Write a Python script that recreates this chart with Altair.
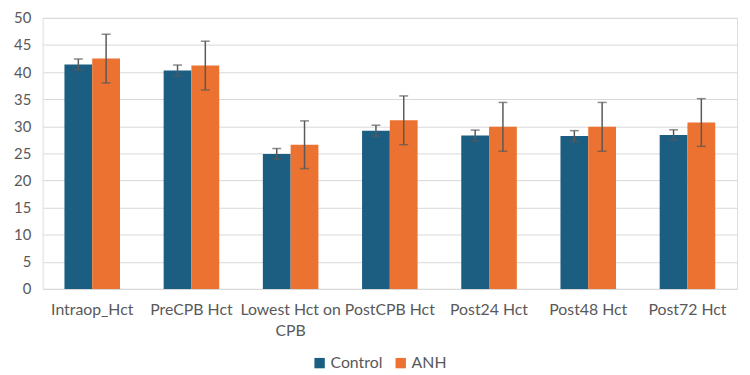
import altair as alt
import pandas as pd

categories = ["Intraop_Hct", "PreCPB Hct", "Lowest Hct on CPB", "PostCPB Hct",
              "Post24 Hct", "Post48 Hct", "Post72 Hct"]
groups = ["Control", "ANH"]
control_mean = [41.4, 40.3, 24.9, 29.2, 28.3, 28.2, 28.4]
control_sd = [1.0, 1.0, 1.0, 1.0, 1.0, 1.0, 0.95]
anh_mean = [42.5, 41.2, 26.6, 31.1, 29.9, 29.9, 30.7]
anh_sd = [4.5, 4.5, 4.4, 4.5, 4.5, 4.5, 4.4]
y_ticks = [0, 5, 10, 15, 20, 25, 30, 35, 40, 45, 50]

rows = []
for i, c in enumerate(categories):
    rows.append({"cat": c, "group": "Control", "mean": control_mean[i],
                 "lo": control_mean[i] - control_sd[i], "hi": control_mean[i] + control_sd[i]})
    rows.append({"cat": c, "group": "ANH", "mean": anh_mean[i],
                 "lo": anh_mean[i] - anh_sd[i], "hi": anh_mean[i] + anh_sd[i]})
df = pd.DataFrame(rows)

FONT = "Lato"
x = alt.X("cat:N", sort=categories, title=None,
          scale=alt.Scale(paddingInner=0.44, paddingOuter=0.22),
          axis=alt.Axis(labelAngle=0, labelFontSize=16, labelColor="#595959", labelFont=FONT,
                        ticks=False, domainColor="#D9D9D9", labelPadding=13, labelLimit=200,
                        labelOverlap=False, labelLineHeight=21,
                        labelExpr="datum.label == 'Lowest Hct on CPB' ? ['Lowest Hct on', 'CPB'] : datum.label"))
xo = alt.XOffset("group:N", sort=groups)
y_axis = alt.Axis(values=y_ticks, labelOverlap=False, labelFontSize=15,
                  labelColor="#595959", labelFont=FONT, ticks=False, domain=False,
                  gridColor="#D9D9D9", labelPadding=12, labelFlush=False)
y_scale = alt.Scale(domain=[0, 50], nice=False)

bars = alt.Chart(df).mark_bar().encode(
    x=x, xOffset=xo,
    y=alt.Y("mean:Q", title=None, scale=y_scale, axis=y_axis),
    color=alt.Color("group:N", sort=groups,
                    scale=alt.Scale(domain=groups, range=["#1B5E82", "#EB7230"]),
                    legend=alt.Legend(title=None, orient="none", direction="horizontal",
                                      legendX=272, legendY=341, symbolType="square",
                                      symbolSize=110, labelFontSize=16, labelFont=FONT,
                                      labelColor="#595959", columnPadding=10, labelOffset=3)),
)
rules = alt.Chart(df).mark_rule(color="#595959", strokeWidth=1.5).encode(
    x=x, xOffset=xo, y=alt.Y("lo:Q", title=None, scale=y_scale, axis=y_axis), y2="hi:Q")
caps_hi = alt.Chart(df).mark_tick(color="#595959", thickness=1.5, size=9).encode(
    x=x, xOffset=xo, y=alt.Y("hi:Q", title=None, scale=y_scale, axis=y_axis))
caps_lo = alt.Chart(df).mark_tick(color="#595959", thickness=1.5, size=9).encode(
    x=x, xOffset=xo, y=alt.Y("lo:Q", title=None, scale=y_scale, axis=y_axis))

chart = alt.layer(bars, rules, caps_hi, caps_lo).properties(
    width=702, height=274,
    autosize=alt.AutoSizeParams(type="none"),
    padding={"left": 35, "top": 8, "right": 5, "bottom": 82},
).configure_view(stroke=None).configure(background="white")

chart.save("out.html", embed_options={"renderer": "svg", "actions": False})
